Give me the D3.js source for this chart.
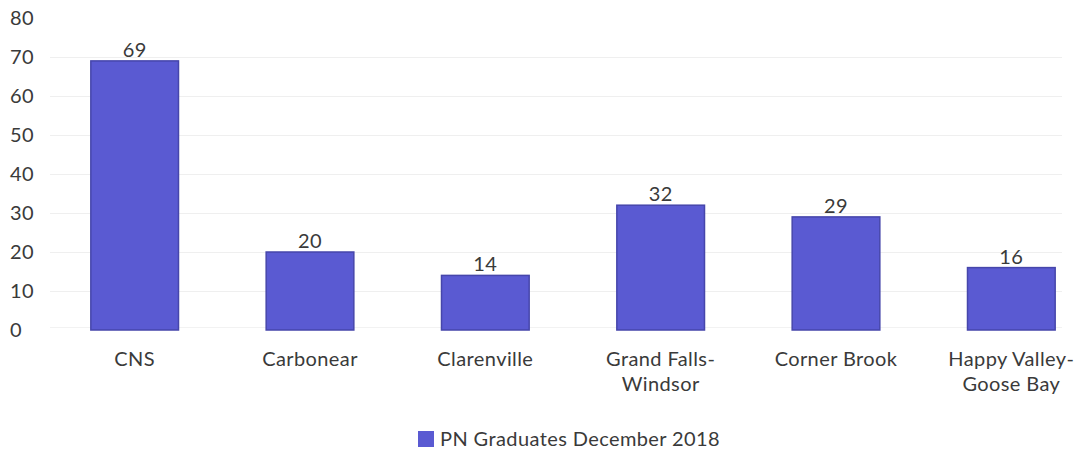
<!DOCTYPE html>
<html>
<head>
<meta charset="utf-8">
<script src="https://cdn.jsdelivr.net/npm/d3@7/dist/d3.min.js"></script>
<style>
  html, body { margin: 0; padding: 0; background: #ffffff; }
  svg { display: block; }
  text { font-family: Lato, "Open Sans", sans-serif; fill: #3a3a3a; letter-spacing: 0.4px; }
</style>
</head>
<body>
<svg id="chart" width="1079" height="451"></svg>
<script>
// PN graduates by campus, December 2018
const categories = [
  ["CNS"],
  ["Carbonear"],
  ["Clarenville"],
  ["Grand Falls-", "Windsor"],
  ["Corner Brook"],
  ["Happy Valley-", "Goose Bay"]
];
const graduates = [69, 20, 14, 32, 29, 16];
const yTicks = [0, 10, 20, 30, 40, 50, 60, 70, 80];
const seriesName = "PN Graduates December 2018";

const svg = d3.select("#chart");
const fontSize = 20;

const keys = categories.map(c => c.join(" "));

const x = d3.scaleBand()
  .domain(keys)
  .range([47, 1099])
  .paddingInner(0.5)
  .paddingOuter(0.25);

const y = d3.scaleLinear()
  .domain([0, 80])
  .range([330, 18]);

// faint horizontal gridlines
svg.append("g")
  .selectAll("line")
  .data(yTicks.filter(t => t > 0 && t < 80))
  .join("line")
  .attr("x1", 50)
  .attr("x2", 1062)
  .attr("y1", d => y(d) + 0.5)
  .attr("y2", d => y(d) + 0.5)
  .attr("stroke", "#efefef")
  .attr("stroke-width", 1);

// baseline
svg.append("line")
  .attr("x1", 50).attr("x2", 1062)
  .attr("y1", y(0) - 2.5).attr("y2", y(0) - 2.5)
  .attr("stroke", "#f2f2f2");

// y-axis tick labels (left aligned)
svg.append("g")
  .selectAll("text")
  .data(yTicks)
  .join("text")
  .attr("x", 10)
  .attr("y", d => y(d))
  .attr("dy", "0.35em")
  .attr("font-size", fontSize)
  .text(d => d);

const data = keys.map((k, i) => ({ key: k, lines: categories[i], value: graduates[i] }));

// bars
svg.append("g")
  .selectAll("rect")
  .data(data)
  .join("rect")
  .attr("x", d => x(d.key))
  .attr("y", d => y(d.value))
  .attr("width", x.bandwidth())
  .attr("height", d => y(0) - y(d.value))
  .attr("fill", "#5a5ad2")
  .attr("stroke", "#4646ab")
  .attr("stroke-width", 1.5);

// value labels
svg.append("g")
  .selectAll("text")
  .data(data)
  .join("text")
  .attr("x", d => x(d.key) + x.bandwidth() / 2)
  .attr("y", d => y(d.value) - 4)
  .attr("text-anchor", "middle")
  .attr("font-size", fontSize)
  .text(d => d.value);

// category labels
const cat = svg.append("g")
  .selectAll("text")
  .data(data)
  .join("text")
  .attr("x", d => x(d.key) + x.bandwidth() / 2)
  .attr("y", 366)
  .attr("text-anchor", "middle")
  .attr("font-size", fontSize);
cat.selectAll("tspan")
  .data(d => d.lines.map(l => ({ l, cx: x(d.key) + x.bandwidth() / 2 })))
  .join("tspan")
  .attr("x", d => d.cx)
  .attr("dy", (d, i) => i === 0 ? 0 : 25)
  .text(d => d.l);

// legend
const legend = svg.append("g");
legend.append("rect")
  .attr("x", 418).attr("y", 431)
  .attr("width", 16).attr("height", 16)
  .attr("fill", "#5a5ad2");
legend.append("text")
  .attr("x", 440).attr("y", 446)
  .attr("font-size", fontSize)
  .text(seriesName);
</script>
</body>
</html>
